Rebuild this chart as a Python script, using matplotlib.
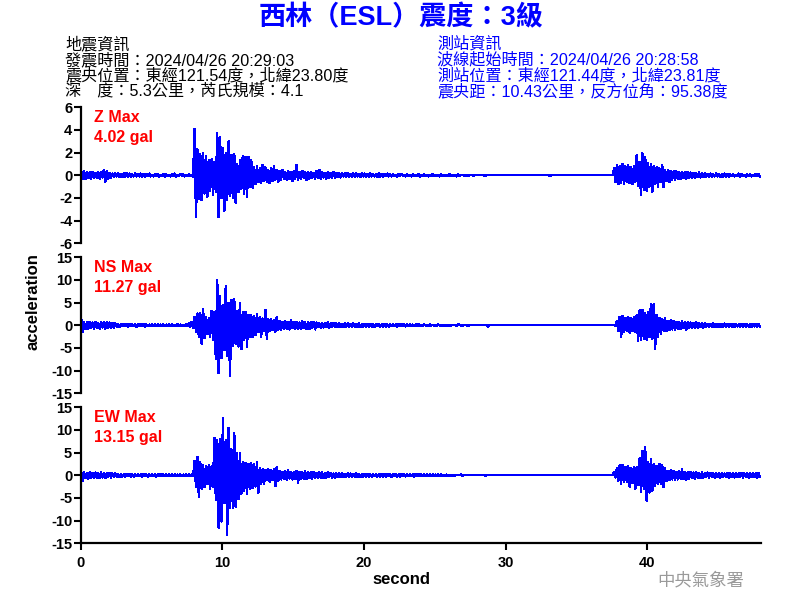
import numpy as np
import matplotlib
matplotlib.use("Agg")
import matplotlib.pyplot as plt

# ---------------- data (0.2 s bins, envelope high / low per bin, gal) ----------------
BIN = 0.2
Z_HI = [
    0.4, 0.35, 0.3, 0.25, 0.3, 0.2, 0.3, 0.25, 0.5, 0.35,
    0.2, 0.15, 0.15, 0.2, 0.1, 0.15, 0.2, 0.15, 0.1, 0.15,
    0.1, 0.15, 0.1, 0.1, 0.15, 0.05, 0.1, 0.1, 0.05, 0.1,
    0.1, 0.05, 0.1, 0.15, 0.05, 0.1, 0.1, 0.05, 0.1, 0.05,
    4.1, 2.3, 1.9, 2.0, 1.7, 1.3, 1.4, 1.2, 3.7, 3.4,
    2.4, 2.0, 3.0, 1.8, 1.9, 1.0, 1.3, 1.7, 1.6, 1.6,
    1.3, 0.7, 0.8, 0.6, 0.9, 0.7, 0.5, 0.6, 0.8, 0.5,
    0.4, 0.5, 0.3, 0.4, 0.3, 0.4, 0.9, 0.3, 0.4, 0.3,
    0.3, 0.3, 0.2, 0.4, 0.5, 0.3, 0.2, 0.3, 0.2, 0.3,
    0.2, 0.15, 0.2, 0.15, 0.2, 0.1, 0.15, 0.2, 0.1, 0.15,
    0.15, 0.1, 0.15, 0.1, 0.1, 0.15, 0.1, 0.1, 0.15, 0.1,
    0.1, 0.05, 0.1, 0.1, 0.05, 0.1, 0.05, 0.1, 0.05, 0.1,
    0.05, 0.1, 0.05, 0.05, 0.1, 0.05, 0.05, 0.1, 0.05, 0.05,
    0.1, 0.05, 0.05, 0.1, 0.05, 0.0, 0.05, 0.05, 0.0, 0.05,
    0.0, 0.05, 0.0, 0.0, 0.0, 0.0, 0.05, 0.05, 0.0, 0.0,
    0.0, 0.0, 0.05, 0.0, 0.0, 0.0, 0.0, 0.0, 0.0, 0.0,
    0.0, 0.0, 0.0, 0.05, 0.0, 0.0, 0.0, 0.0, 0.0, 0.0,
    0.0, 0.0, 0.0, 0.0, 0.0, 0.0, 0.0, 0.0, 0.0, 0.0,
    0.0, 0.0, 0.0, 0.0, 0.0, 0.0, 0.0, 0.0, 0.6, 0.9,
    0.8, 1.0, 0.8, 0.9, 0.7, 0.8, 1.8, 1.2, 1.95, 1.6,
    1.1, 1.0, 0.8, 0.7, 0.6, 0.9, 0.5, 0.45, 0.4, 0.35,
    0.35, 0.3, 0.3, 0.25, 0.3, 0.25, 0.2, 0.2, 0.25, 0.15,
    0.15, 0.1, 0.15, 0.1, 0.15, 0.1, 0.1, 0.15, 0.1, 0.1,
    0.1, 0.05, 0.15, 0.1, 0.05, 0.1, 0.1, 0.05, 0.1, 0.1,
]
Z_LO = [
    -0.3, -0.35, -0.25, -0.3, -0.2, -0.25, -0.3, -0.2, -0.55, -0.3,
    -0.2, -0.15, -0.1, -0.15, -0.15, -0.1, -0.15, -0.15, -0.1, -0.1,
    -0.1, -0.1, -0.15, -0.05, -0.1, -0.1, -0.05, -0.1, -0.05, -0.1,
    -0.05, -0.1, -0.05, -0.1, -0.05, -0.05, -0.1, -0.05, -0.05, -0.1,
    -3.7, -2.1, -2.2, -1.6, -1.9, -1.4, -1.7, -1.5, -3.7, -2.0,
    -3.1, -2.2, -1.8, -2.0, -2.4, -1.5, -1.2, -1.6, -1.9, -1.0,
    -1.1, -0.8, -0.6, -0.7, -0.5, -0.6, -0.7, -0.5, -0.4, -0.6,
    -0.4, -0.3, -0.4, -0.3, -0.5, -0.3, -0.4, -0.3, -0.2, -0.4,
    -0.3, -0.2, -0.3, -0.2, -0.3, -0.2, -0.3, -0.2, -0.2, -0.2,
    -0.15, -0.2, -0.1, -0.15, -0.1, -0.15, -0.1, -0.1, -0.15, -0.1,
    -0.1, -0.15, -0.1, -0.1, -0.15, -0.1, -0.1, -0.05, -0.1, -0.1,
    -0.05, -0.1, -0.05, -0.05, -0.1, -0.05, -0.1, -0.05, -0.05, -0.1,
    -0.05, -0.05, -0.1, -0.05, -0.05, -0.05, -0.1, -0.05, -0.05, -0.05,
    -0.05, -0.05, -0.1, -0.05, 0.0, -0.05, -0.05, 0.0, -0.05, 0.0,
    0.0, 0.0, -0.05, 0.0, 0.0, 0.0, 0.0, 0.0, 0.0, 0.0,
    0.0, 0.0, 0.0, 0.0, 0.0, 0.0, 0.0, 0.0, 0.0, 0.0,
    0.0, 0.0, 0.0, 0.0, 0.0, -0.05, 0.0, 0.0, 0.0, 0.0,
    0.0, 0.0, 0.0, 0.0, 0.0, 0.0, 0.0, 0.0, 0.0, 0.0,
    0.0, 0.0, 0.0, 0.0, 0.0, 0.0, 0.0, 0.0, -0.6, -0.8,
    -0.7, -0.8, -0.6, -0.7, -0.8, -0.6, -0.9, -1.7, -1.3, -1.35,
    -1.0, -1.45, -0.8, -1.05, -0.6, -1.05, -0.5, -0.6, -0.4, -0.4,
    -0.3, -0.35, -0.25, -0.3, -0.2, -0.25, -0.2, -0.15, -0.2, -0.15,
    -0.1, -0.15, -0.1, -0.1, -0.1, -0.15, -0.1, -0.1, -0.1, -0.05,
    -0.1, -0.05, -0.1, -0.05, -0.1, -0.05, -0.1, -0.05, -0.05, -0.1,
]
NS_HI = [
    1.4, 0.7, 0.6, 0.8, 0.6, 0.7, 0.5, 0.8, 0.6, 0.7,
    0.6, 0.5, 0.4, 0.3, 0.2, 0.3, 0.2, 0.3, 0.2, 0.2,
    0.2, 0.3, 0.2, 0.2, 0.15, 0.2, 0.25, 0.2, 0.15, 0.2,
    0.15, 0.2, 0.15, 0.1, 0.2, 0.15, 0.1, 0.15, 0.4, 0.8,
    1.9, 2.6, 2.7, 3.6, 1.8, 1.5, 3.2, 3.0, 10.0, 6.5,
    4.5, 8.7, 4.9, 5.6, 5.7, 3.2, 5.0, 2.8, 3.0, 2.3,
    2.2, 2.0, 2.5, 1.8, 1.5, 3.4, 1.4, 1.3, 1.2, 1.8,
    1.0, 0.8, 0.9, 0.7, 1.2, 0.7, 0.8, 0.6, 0.9, 0.7,
    0.7, 0.6, 0.8, 0.6, 0.5, 0.4, 0.5, 0.6, 0.4, 0.5,
    0.4, 0.5, 0.3, 0.4, 0.4, 0.3, 0.4, 0.3, 0.4, 0.3,
    0.3, 0.35, 0.3, 0.25, 0.3, 0.3, 0.2, 0.3, 0.25, 0.3,
    0.25, 0.2, 0.3, 0.2, 0.2, 0.25, 0.2, 0.15, 0.2, 0.2,
    0.1, 0.15, 0.05, 0.2, 0.1, 0.05, 0.2, 0.05, 0.1, 0.05,
    0.05, 0.05, 0.0, 0.3, 0.0, 0.05, 0.0, 0.0, 0.0, 0.0,
    0.0, 0.0, 0.0, 0.0, 0.0, 0.0, 0.0, 0.0, 0.0, 0.0,
    0.0, 0.0, 0.0, 0.0, 0.0, 0.0, 0.0, 0.0, 0.0, 0.0,
    0.0, 0.0, 0.0, 0.0, 0.0, 0.0, 0.0, 0.0, 0.0, 0.0,
    0.0, 0.0, 0.0, 0.0, 0.0, 0.0, 0.0, 0.0, 0.0, 0.0,
    0.0, 0.0, 0.0, 0.0, 0.0, 0.0, 0.0, 0.0, 0.1, 1.0,
    1.9, 2.1, 1.6, 1.9, 1.5, 1.8, 2.2, 3.3, 3.4, 2.8,
    3.0, 4.7, 4.7, 2.3, 1.6, 1.4, 1.5, 1.0, 1.1, 0.9,
    0.8, 0.7, 0.9, 0.6, 0.7, 0.6, 0.5, 0.6, 0.5, 0.4,
    0.4, 0.35, 0.3, 0.4, 0.3, 0.35, 0.3, 0.4, 0.3, 0.3,
    0.3, 0.35, 0.25, 0.3, 0.3, 0.25, 0.3, 0.35, 0.3, 0.25,
]
NS_LO = [
    -1.5, -0.8, -0.7, -0.6, -0.8, -0.6, -0.7, -0.5, -0.8, -0.6,
    -0.5, -0.6, -0.3, -0.3, -0.2, -0.2, -0.3, -0.2, -0.2, -0.3,
    -0.2, -0.2, -0.3, -0.15, -0.2, -0.2, -0.15, -0.2, -0.2, -0.15,
    -0.15, -0.1, -0.2, -0.15, -0.1, -0.15, -0.15, -0.1, -0.3, -0.6,
    -1.5, -2.5, -4.0, -2.8, -2.0, -2.5, -3.3, -7.5, -10.6, -7.3,
    -5.5, -6.8, -11.27, -4.5, -4.0, -4.7, -5.3, -3.3, -4.7, -2.6,
    -2.6, -2.2, -1.5, -2.5, -1.3, -3.0, -1.2, -1.0, -1.4, -1.0,
    -1.0, -0.8, -0.7, -0.9, -0.6, -0.8, -0.7, -0.8, -0.6, -0.8,
    -0.8, -0.5, -0.9, -0.4, -0.5, -0.5, -0.4, -0.5, -0.4, -0.4,
    -0.4, -0.3, -0.4, -0.3, -0.4, -0.4, -0.3, -0.3, -0.4, -0.3,
    -0.3, -0.25, -0.3, -0.3, -0.2, -0.3, -0.35, -0.25, -0.3, -0.2,
    -0.2, -0.25, -0.2, -0.2, -0.25, -0.15, -0.2, -0.2, -0.15, -0.2,
    -0.1, -0.05, -0.1, -0.05, -0.1, -0.05, -0.05, -0.1, -0.05, -0.05,
    -0.05, 0.0, -0.05, 0.0, -0.05, 0.0, -0.2, 0.0, 0.0, 0.0,
    0.0, 0.0, 0.0, -0.25, 0.0, 0.0, 0.0, 0.0, 0.0, 0.0,
    0.0, 0.0, 0.0, 0.0, 0.0, 0.0, 0.0, 0.0, 0.0, 0.0,
    0.0, 0.0, 0.0, 0.0, 0.0, 0.0, 0.0, 0.0, 0.0, 0.0,
    0.0, 0.0, 0.0, 0.0, 0.0, 0.0, 0.0, 0.0, 0.0, 0.0,
    0.0, 0.0, 0.0, 0.0, 0.0, 0.0, 0.0, 0.0, -0.1, -1.2,
    -2.6, -1.5, -1.3, -1.6, -1.2, -1.5, -3.4, -3.2, -3.0, -3.2,
    -2.6, -3.0, -5.3, -2.5, -1.8, -1.2, -1.3, -1.1, -0.9, -1.0,
    -0.7, -0.8, -0.6, -1.0, -0.6, -0.5, -0.6, -0.5, -0.4, -0.5,
    -0.35, -0.4, -0.3, -0.35, -0.3, -0.4, -0.3, -0.3, -0.35, -0.3,
    -0.3, -0.25, -0.3, -0.3, -0.25, -0.3, -0.3, -0.25, -0.3, -0.3,
]
EW_HI = [
    0.8, 0.6, 0.5, 0.6, 0.5, 0.6, 0.4, 0.6, 0.5, 0.5,
    0.5, 0.4, 0.5, 0.3, 0.3, 0.2, 0.3, 0.3, 0.2, 0.3,
    0.3, 0.2, 0.3, 0.2, 0.2, 0.3, 0.2, 0.2, 0.25, 0.2,
    0.2, 0.15, 0.2, 0.2, 0.15, 0.2, 0.15, 0.2, 0.15, 0.2,
    3.2, 4.0, 2.8, 2.3, 2.0, 2.2, 2.0, 8.2, 7.8, 8.0,
    12.7, 7.8, 10.4, 5.7, 9.4, 4.9, 5.0, 3.0, 2.8, 2.5,
    2.6, 2.5, 2.8, 1.5, 1.3, 1.2, 1.3, 1.2, 1.4, 1.9,
    1.0, 0.8, 0.9, 1.1, 0.7, 0.8, 1.0, 0.8, 0.7, 0.9,
    0.7, 0.6, 0.8, 0.5, 0.6, 0.6, 0.5, 0.6, 0.5, 0.4,
    0.4, 0.5, 0.4, 0.3, 0.4, 0.4, 0.3, 0.4, 0.3, 0.3,
    0.3, 0.3, 0.25, 0.3, 0.3, 0.2, 0.3, 0.25, 0.3, 0.2,
    0.25, 0.3, 0.2, 0.25, 0.2, 0.3, 0.2, 0.2, 0.25, 0.2,
    0.2, 0.2, 0.15, 0.25, 0.2, 0.15, 0.2, 0.15, 0.1, 0.15,
    0.1, 0.05, 0.0, 0.0, 0.15, 0.1, 0.0, 0.0, 0.0, 0.0,
    0.0, 0.0, 0.1, 0.0, 0.0, 0.0, 0.0, 0.0, 0.0, 0.0,
    0.0, 0.0, 0.0, 0.0, 0.0, 0.0, 0.0, 0.0, 0.0, 0.0,
    0.0, 0.0, 0.0, 0.0, 0.0, 0.0, 0.0, 0.0, 0.0, 0.0,
    0.0, 0.0, 0.0, 0.0, 0.0, 0.0, 0.0, 0.0, 0.0, 0.0,
    0.0, 0.0, 0.0, 0.0, 0.0, 0.0, 0.0, 0.0, 0.7, 1.5,
    2.2, 2.3, 1.8, 2.1, 1.6, 1.9, 1.7, 3.75, 5.4, 6.2,
    3.0, 3.5, 2.5, 2.0, 2.5, 2.3, 1.5, 1.0, 1.1, 0.9,
    0.8, 0.9, 1.3, 0.8, 0.7, 0.8, 0.6, 0.7, 0.5, 0.6,
    0.5, 0.6, 0.5, 0.4, 0.5, 0.4, 0.5, 0.4, 0.5, 0.4,
    0.4, 0.5, 0.4, 0.5, 0.4, 0.4, 0.5, 0.4, 0.4, 0.5,
]
EW_LO = [
    -1.3, -0.6, -0.7, -0.5, -0.6, -0.5, -0.6, -0.5, -0.6, -0.4,
    -0.5, -0.4, -0.3, -0.4, -0.3, -0.3, -0.2, -0.3, -0.3, -0.2,
    -0.2, -0.3, -0.2, -0.3, -0.2, -0.2, -0.3, -0.2, -0.2, -0.2,
    -0.2, -0.2, -0.15, -0.2, -0.2, -0.15, -0.2, -0.15, -0.2, -0.15,
    -2.5, -4.7, -3.0, -2.6, -2.0, -2.9, -2.5, -5.4, -11.5, -10.2,
    -6.0, -13.15, -7.1, -7.1, -6.9, -5.3, -4.0, -3.5, -4.2, -3.0,
    -2.8, -2.5, -3.8, -1.8, -2.0, -1.0, -1.4, -1.1, -2.4, -1.3,
    -0.9, -0.8, -1.0, -0.7, -0.9, -0.8, -1.6, -0.8, -0.7, -0.8,
    -0.6, -0.7, -0.5, -0.6, -0.5, -0.6, -0.5, -0.4, -0.5, -0.5,
    -0.4, -0.3, -0.4, -0.4, -0.3, -0.4, -0.3, -0.3, -0.4, -0.3,
    -0.3, -0.25, -0.3, -0.2, -0.3, -0.3, -0.25, -0.3, -0.2, -0.3,
    -0.2, -0.25, -0.3, -0.2, -0.25, -0.2, -0.2, -0.25, -0.2, -0.2,
    -0.15, -0.2, -0.2, -0.15, -0.2, -0.15, -0.2, -0.1, -0.15, -0.15,
    -0.1, -0.05, 0.0, 0.0, -0.1, 0.0, 0.0, 0.0, 0.0, 0.0,
    0.0, 0.0, -0.1, 0.0, 0.0, 0.0, 0.0, 0.0, 0.0, 0.0,
    0.0, 0.0, 0.0, 0.0, 0.0, 0.0, 0.0, 0.0, 0.0, 0.0,
    0.0, 0.0, 0.0, 0.0, 0.0, 0.0, 0.0, 0.0, 0.0, 0.0,
    0.0, 0.0, 0.0, 0.0, 0.0, 0.0, 0.0, 0.0, 0.0, 0.0,
    0.0, 0.0, 0.0, 0.0, 0.0, 0.0, 0.0, 0.0, -0.5, -1.3,
    -1.8, -1.5, -1.4, -2.5, -1.7, -2.9, -2.2, -3.6, -3.0, -5.6,
    -3.8, -3.4, -2.3, -1.8, -2.0, -2.6, -1.3, -1.1, -0.9, -1.0,
    -0.9, -0.7, -0.8, -1.0, -0.7, -0.6, -0.7, -0.5, -0.6, -0.5,
    -0.4, -0.5, -0.4, -0.5, -0.4, -0.5, -0.4, -0.4, -0.5, -0.4,
    -0.5, -0.4, -0.4, -0.5, -0.4, -0.5, -0.4, -0.4, -0.5, -0.4,
]

CHANNELS = ["Z", "NS", "EW"]
MAX_LABELS = ["4.02 gal", "11.27 gal", "13.15 gal"]
YLIMS = [(-6, 6), (-15, 15), (-15, 15)]
YTICKS = [[-6, -4, -2, 0, 2, 4, 6], [-15, -10, -5, 0, 5, 10, 15], [-15, -10, -5, 0, 5, 10, 15]]
XTICKS = [0, 10, 20, 30, 40]
TITLE = "西林（ESL）震度：3級"
LEFT_INFO = ["地震資訊", "發震時間：2024/04/26 20:29:03",
             "震央位置：東經121.54度，北緯23.80度", "深　度：5.3公里，芮氏規模：4.1"]
RIGHT_INFO = ["測站資訊", "波線起始時間：2024/04/26 20:28:58",
              "測站位置：東經121.44度，北緯23.81度", "震央距：10.43公里，反方位角：95.38度"]

# ---------------- drawing ----------------
FAM = ["Liberation Sans", "Noto Sans CJK TC", "DejaVu Sans"]
plt.rcParams["font.family"] = FAM

fig = plt.figure(figsize=(8, 6), dpi=100)
W, H = 800.0, 600.0
ax_left = 80.5 / W
ax_w = (760.7 - 80.5) / W
ax_h = 136.0 / H
tops = [107.3, 257.3, 407.3]

series = [(Z_HI, Z_LO), (NS_HI, NS_LO), (EW_HI, EW_LO)]
for k, (hi, lo) in enumerate(series):
    hi = np.asarray(hi)
    lo = np.asarray(lo)
    n = len(hi)
    t0 = np.arange(n) * BIN
    t = np.empty(2 * n)
    y = np.empty(2 * n)
    t[0::2] = t0 + 0.25 * BIN
    t[1::2] = t0 + 0.75 * BIN
    y[0::2] = hi
    y[1::2] = lo
    bottom = 1 - (tops[k] + 136.0) / H
    ax = fig.add_axes([ax_left, bottom, ax_w, ax_h])
    ax.plot(t, y, color="#0000ff", lw=1.0, antialiased=False)
    ax.set_xlim(0, 48)
    ax.set_ylim(*YLIMS[k])
    ax.set_yticks(YTICKS[k])
    ax.set_yticklabels([str(v) for v in YTICKS[k]])
    for s in ("top", "right"):
        ax.spines[s].set_visible(False)
    ax.spines["left"].set_linewidth(1.6)
    ax.tick_params(axis="y", direction="out", length=5, width=1.5, pad=1,
                   labelsize=10.5)
    for lbl in ax.get_yticklabels():
        lbl.set_fontweight("bold")
    if k < 2:
        ax.spines["bottom"].set_visible(False)
        ax.set_xticks([])
    else:
        ax.spines["bottom"].set_linewidth(1.6)
        ax.set_xticks(XTICKS)
        ax.set_xticklabels([str(v) for v in XTICKS])
        ax.tick_params(axis="x", direction="out", length=5, width=1.5, pad=4,
                       labelsize=10.5)
        for lbl in ax.get_xticklabels():
            lbl.set_fontweight("bold")
    ax.patch.set_alpha(0)
    ax.text(0.02, 0.925, CHANNELS[k] + " Max", transform=ax.transAxes, color="#ff0000",
            fontsize=11.5, fontweight="bold", va="center", ha="left")
    ax.text(0.02, 0.775, MAX_LABELS[k], transform=ax.transAxes, color="#ff0000",
            fontsize=11.5, fontweight="bold", va="center", ha="left")

# title and info blocks
fig.text(401 / W, 1 - 18 / H, TITLE, ha="center", va="center", fontsize=19.5,
         fontweight="bold", color="#0000ff")
ys = [44, 60, 75.5, 91]
for txt, yy in zip(LEFT_INFO, ys):
    fig.text(65 / W, 1 - yy / H, txt, ha="left", va="center", fontsize=11.6,
             color="black")
for txt, yy in zip(RIGHT_INFO, ys):
    fig.text(437 / W, 1 - yy / H, txt, ha="left", va="center", fontsize=11.6,
             color="#0000ff")

fig.text(33 / W, 1 - 302 / H, "acceleration", rotation=90, ha="center", va="center",
         fontsize=12, fontweight="bold")
fig.text(401 / W, 1 - 580 / H, "second", ha="center", va="center",
         fontsize=12, fontweight="bold")
fig.text(701 / W, 1 - 580 / H, "中央氣象署", ha="center", va="center",
         fontsize=12.5, color="#9a9a9a")

fig.savefig("out.png", dpi=100)
